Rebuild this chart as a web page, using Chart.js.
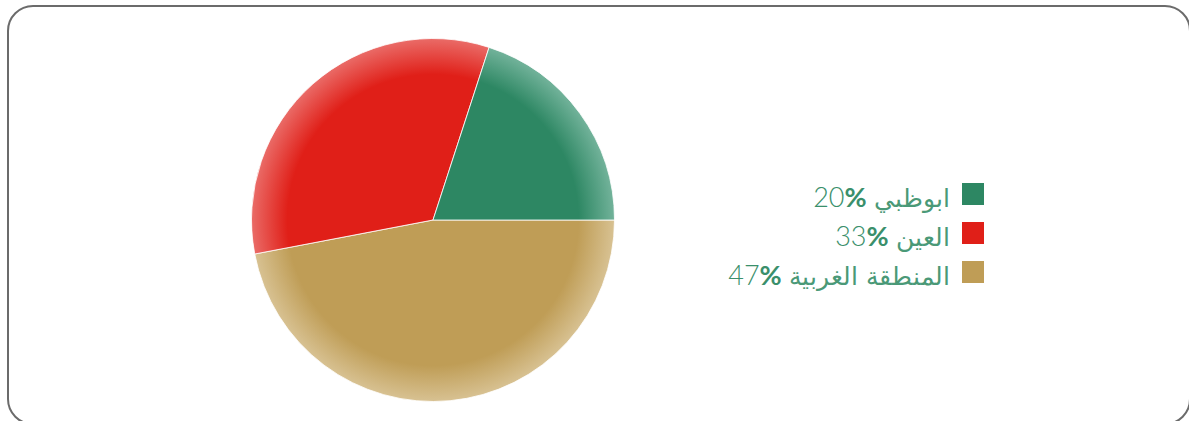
<!DOCTYPE html>
<html><head><meta charset="utf-8">
<script src="https://cdn.jsdelivr.net/npm/chart.js@4/dist/chart.umd.min.js"></script>
<style>
html,body{margin:0;padding:0;background:#fff;width:1189px;height:421px;overflow:hidden;}
#frame{position:absolute;left:7px;top:5px;width:1184px;height:420px;border:2px solid #6b6b6b;border-radius:26px;box-sizing:border-box;}
#wrap{position:absolute;left:247px;top:34px;width:372px;height:372px;}
#legend{position:absolute;right:205px;top:174px;direction:rtl;font-family:"Lato","DejaVu Sans",sans-serif;font-weight:300;color:#3a8f6b;font-size:27px;}
.row{display:flex;align-items:center;height:39px;}
.sw{width:22px;height:22px;margin-left:12px;flex:none;}
.txt{position:relative;top:3px;}
.ar{font-family:"DejaVu Sans",sans-serif;font-size:25px;font-weight:300;color:#4a9977;}
.num{unicode-bidi:isolate;direction:ltr;}
.num b{font-weight:700;}
</style></head><body>
<div id="frame"></div>
<div id="wrap"><canvas id="c"></canvas></div>
<div id="legend"></div>
<script>
const labels = ["ابوظبي", "العين", "المنطقة الغربية"];
const values = [20, 33, 47];
const colors = ["#2d8763", "#e01f18", "#bf9d56"];
const edgeColors = ["#73b39b", "#ea6c68", "#d8c293"];
// drawing order (clockwise from 3 o'clock): المنطقة الغربية, العين, ابوظبي
const order = [2, 1, 0];

const lg = document.getElementById('legend');
labels.forEach((l, i) => {
  const r = document.createElement('div'); r.className = 'row';
  r.innerHTML = '<span class="sw" style="background:' + colors[i] + '"></span><span class="txt"><span class="ar">' + l + '</span> <span class="num">' + values[i] + '<b>%</b></span></span>';
  lg.appendChild(r);
});

function grad(ctx) {
  const i = order[ctx.dataIndex];
  const c = ctx.chart, a = c.chartArea;
  if (!a) return colors[i];
  const cx = (a.left + a.right) / 2, cy = (a.top + a.bottom) / 2;
  const r = Math.min(a.width, a.height) / 2;
  const g = c.ctx.createRadialGradient(cx, cy, 0, cx, cy, r);
  g.addColorStop(0, colors[i]);
  g.addColorStop(0.8, colors[i]);
  g.addColorStop(1, edgeColors[i]);
  return g;
}

new Chart(document.getElementById('c'), {
  type: 'pie',
  data: {
    labels: order.map(i => labels[i]),
    datasets: [{
      data: order.map(i => values[i]),
      backgroundColor: grad,
      borderColor: 'rgba(255,255,255,0.8)',
      borderWidth: 1,
      hoverOffset: 0
    }]
  },
  options: {
    responsive: true,
    maintainAspectRatio: false,
    animation: false,
    rotation: 90,
    layout: { padding: 4 },
    plugins: { legend: { display: false }, tooltip: { enabled: false } }
  }
});
</script>
</body></html>
